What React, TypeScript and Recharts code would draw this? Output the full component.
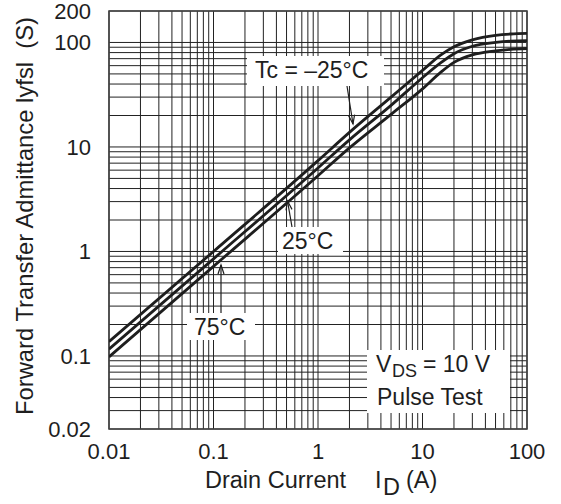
import React from "react";
import { LineChart, Line, XAxis, YAxis, CartesianGrid, ReferenceArea } from "recharts";

// Drain current I_D (A)
const DRAIN_CURRENT = [0.01, 0.1, 1, 2, 5, 10, 15, 20, 30, 50, 70, 100];
// Forward transfer admittance |yfs| (S) per case temperature
const YFS_TC_MINUS25 = [0.137, 1.0, 7.4, 13.8, 30, 54, 76, 91, 106, 117, 120.5, 122];
const YFS_TC_25 = [0.116, 0.85, 6.3, 11.7, 25, 46, 64, 78, 92, 100, 103, 104];
const YFS_TC_75 = [0.098, 0.72, 5.3, 9.8, 20.5, 36, 52, 64.5, 76, 83, 86, 87.5];

const X_TICK_LABELS = ["0.01", "0.1", "1", "10", "100"];
const Y_TICK_LABELS = ["0.02", "0.1", "1", "10", "100", "200"];

const X_GRID = [
  0.01, 0.02, 0.03, 0.04, 0.05, 0.06, 0.07, 0.08, 0.09,
  0.1, 0.2, 0.3, 0.4, 0.5, 0.6, 0.7, 0.8, 0.9,
  1, 2, 3, 4, 5, 6, 7, 8, 9,
  10, 20, 30, 40, 50, 60, 70, 80, 90,
  100,
];
const Y_GRID = [
  0.02, 0.03, 0.04, 0.05, 0.06, 0.07, 0.08, 0.09,
  0.1, 0.2, 0.3, 0.4, 0.5, 0.6, 0.7, 0.8, 0.9,
  1, 2, 3, 4, 5, 6, 7, 8, 9,
  10, 20, 30, 40, 50, 60, 70, 80, 90,
  100, 200,
];

const data = DRAIN_CURRENT.map((x, i) => ({
  x,
  m25: YFS_TC_MINUS25[i],
  p25: YFS_TC_25[i],
  p75: YFS_TC_75[i],
}));

const FONT = "'Liberation Sans', Arial, Helvetica, sans-serif";
const INK = "#1e1e1e";

const fmt = (labels: string[]) => (v: number) => {
  const s = String(v);
  return labels.includes(s) ? s : "";
};

function Overlay() {
  const t = { fontFamily: FONT, fill: INK } as const;
  return (
    <svg
      width={561}
      height={504}
      style={{ position: "absolute", left: 0, top: 0, pointerEvents: "none" }}
    >
      {/* Y axis title */}
      <text
        {...t}
        fontSize={23.8}
        textAnchor="middle"
        transform="translate(33,216) rotate(-90)"
        style={{ whiteSpace: "pre" }}
      >
        {"Forward Transfer Admittance lyfsl  (S)"}
      </text>
      {/* X axis title */}
      <text {...t} fontSize={23.5} y={488} style={{ whiteSpace: "pre" }}>
        <tspan x={205}>Drain Current</tspan>
        <tspan x={375}>I</tspan>
        <tspan x={383} dy={7}>D</tspan>
        <tspan x={406} dy={-7}>(A)</tspan>
      </text>

      {/* Tc = -25°C label */}
      <rect x={247} y={56} width={137} height={30} fill="#fff" />
      <text {...t} fontSize={23} x={255} y={78}>Tc = –25°C</text>
      <line x1={347} y1={86} x2={353} y2={124} stroke={INK} strokeWidth={1.2} />
      <polyline points="348.6,115.6 353,124 354.6,114.6" fill="none" stroke={INK} strokeWidth={1.2} />

      {/* 25°C label */}
      <rect x={278} y={227} width={65} height={27} fill="#fff" />
      <text {...t} fontSize={23} x={282} y={249}>25°C</text>
      <line x1={292} y1={227} x2={287.5} y2={201} stroke={INK} strokeWidth={1.2} />
      <polyline points="286,210.4 287.5,201 292,209.4" fill="none" stroke={INK} strokeWidth={1.2} />

      {/* 75°C label */}
      <rect x={187} y={313} width={68} height={27} fill="#fff" />
      <text {...t} fontSize={23} x={194} y={335}>75°C</text>
      <line x1={221} y1={313} x2={221} y2={265} stroke={INK} strokeWidth={1.2} />
      <polyline points="218,274 221,265 224,274" fill="none" stroke={INK} strokeWidth={1.2} />

      {/* VDS box */}
      <rect x={367} y={350} width={143} height={63} fill="#fff" />
      <text {...t} fontSize={23} y={372} style={{ whiteSpace: "pre" }}>
        <tspan x={376}>V</tspan>
        <tspan x={392} dy={5} fontSize={18}>DS</tspan>
        <tspan x={423} dy={-5}>= 10 V</tspan>
      </text>
      <text {...t} fontSize={23} x={377} y={405}>Pulse Test</text>
    </svg>
  );
}

export default function App() {
  return (
    <div style={{ position: "absolute", left: 0, top: 0, width: 561, height: 504, background: "#fff" }}>
      <LineChart
        width={561}
        height={504}
        data={data}
        margin={{ top: 11, right: 34, left: 0, bottom: 0 }}
      >
        <CartesianGrid stroke="#222" strokeWidth={1} />
        <XAxis
          dataKey="x"
          type="number"
          scale="log"
          domain={[0.01, 100]}
          allowDataOverflow
          ticks={X_GRID}
          interval={0}
          tickFormatter={fmt(X_TICK_LABELS)}
          tickLine={false}
          axisLine={false}
          tickMargin={8}
          height={75}
          tick={{ fontSize: 22, fill: INK, fontFamily: FONT }}
        />
        <YAxis
          type="number"
          scale="log"
          domain={[0.02, 200]}
          allowDataOverflow
          ticks={Y_GRID}
          interval={0}
          tickFormatter={fmt(Y_TICK_LABELS)}
          tickLine={false}
          axisLine={false}
          tickMargin={12}
          width={109}
          tick={{ fontSize: 22, fill: INK, fontFamily: FONT }}
        />
        <ReferenceArea
          x1={0.01}
          x2={100}
          y1={0.02}
          y2={200}
          fill="none"
          stroke="#444"
          strokeWidth={1.6}
          ifOverflow="visible"
        />
        <Line type="monotone" dataKey="m25" stroke={INK} strokeWidth={2.8} dot={false} isAnimationActive={false} />
        <Line type="monotone" dataKey="p25" stroke={INK} strokeWidth={2.8} dot={false} isAnimationActive={false} />
        <Line type="monotone" dataKey="p75" stroke={INK} strokeWidth={2.8} dot={false} isAnimationActive={false} />
      </LineChart>
      <Overlay />
    </div>
  );
}
